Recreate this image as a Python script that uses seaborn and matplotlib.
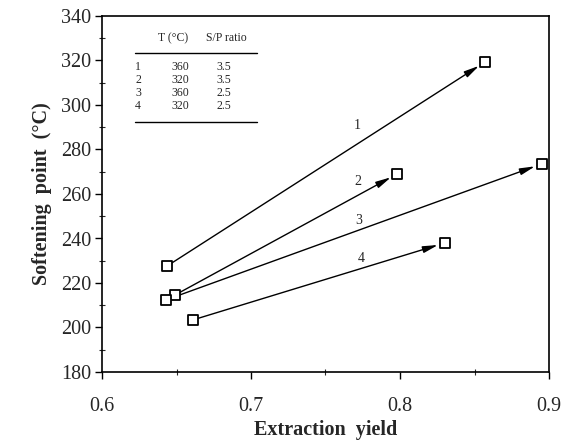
import matplotlib
matplotlib.use("Agg")
import matplotlib.pyplot as plt
import seaborn as sns
import pandas as pd
from matplotlib.ticker import MultipleLocator

# Data
series = ["1", "2", "3", "4"]
x_start = [0.6436, 0.649, 0.643, 0.661]
y_start = [227.6, 214.6, 212.4, 203.4]
x_end = [0.857, 0.798, 0.895, 0.830]
y_end = [319.3, 269.0, 273.5, 238.0]
label_x = [0.771, 0.772, 0.772, 0.774]
label_y = [290.6, 265.4, 248.3, 231.2]

table_T = ["360", "320", "360", "320"]
table_SP = ["3.5", "3.5", "2.5", "2.5"]

x_ticks = [0.6, 0.7, 0.8, 0.9]
y_ticks = [180, 200, 220, 240, 260, 280, 300, 320, 340]

sns.set_style("ticks")
plt.rcParams["font.family"] = ["Liberation Serif", "DejaVu Serif"]

fig = plt.figure(figsize=(5.66, 4.44), dpi=100)
ax = fig.add_axes([102 / 566, 1 - 372 / 444, (549 - 102) / 566, (372 - 16) / 444])

pts = pd.DataFrame({
    "x": x_start + x_end,
    "y": y_start + y_end,
    "s": series + series,
})

for xs, ys, xe, ye in zip(x_start, y_start, x_end, y_end):
    ax.annotate("", xy=(xe, ye), xytext=(xs, ys),
                arrowprops=dict(arrowstyle="-|>,head_length=0.9,head_width=0.2",
                                color="black", lw=1.0,
                                shrinkA=4, shrinkB=5, mutation_scale=10),
                zorder=2)

sns.scatterplot(data=pts, x="x", y="y", marker="s", s=44,
                facecolor="white", edgecolor="black", linewidth=1.3,
                ax=ax, legend=False, zorder=3)

for s, lx, ly in zip(series, label_x, label_y):
    ax.text(lx, ly, s, ha="center", va="center", fontsize=10)

ax.set_xlim(0.6, 0.9)
ax.set_ylim(180, 340)
ax.set_xticks(x_ticks)
ax.set_xticklabels([f"{v:.1f}" for v in x_ticks])
ax.set_yticks(y_ticks)
ax.set_yticklabels([str(v) for v in y_ticks])
ax.xaxis.set_minor_locator(MultipleLocator(0.05))
ax.yaxis.set_minor_locator(MultipleLocator(10))
ax.tick_params(axis="both", which="major", direction="out", length=5,
               width=1, labelsize=14.5, color="black")
ax.tick_params(axis="both", which="minor", direction="inout", length=4, width=0.8)
ax.tick_params(axis="x", which="major", pad=13)
ax.tick_params(axis="y", which="major", pad=3)
for sp in ax.spines.values():
    sp.set_linewidth(1.2)
    sp.set_color("black")

ax.set_xlabel("Extraction  yield", fontsize=14.5, fontweight="bold", labelpad=3)
ax.set_ylabel("Softening  point  (°C)", fontsize=14.5, fontweight="bold", labelpad=6)

# Inset table (axes coordinates from pixel positions)
def ax_xy(px, py):
    return ((px - 102) / 447, 1 - (py - 16) / 356)

tx, ty = ax_xy(173, 38)
ax.text(tx, ty, "T (°C)", transform=ax.transAxes, ha="center", va="center", fontsize=8.5)
tx, ty = ax_xy(226, 38)
ax.text(tx, ty, "S/P ratio", transform=ax.transAxes, ha="center", va="center", fontsize=8.5)
for py in (53, 122):
    x0, y0 = ax_xy(135, py)
    x1, _ = ax_xy(257, py)
    ax.plot([x0, x1], [y0, y0], transform=ax.transAxes, color="black", lw=1.0)
for i, (s, t, sp) in enumerate(zip(series, table_T, table_SP)):
    py = 67 + i * 13
    for val, px in ((s, 138), (t, 180), (sp, 224)):
        xx, yy = ax_xy(px, py)
        ax.text(xx, yy, val, transform=ax.transAxes, ha="center", va="center", fontsize=8.5)

fig.savefig("out.png", dpi=100)
